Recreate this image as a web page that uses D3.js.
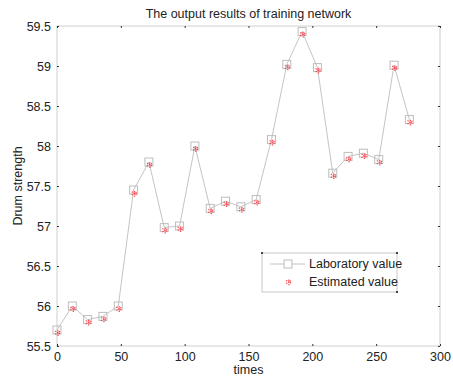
<!DOCTYPE html>
<html>
<head>
<meta charset="utf-8">
<script src="https://cdn.jsdelivr.net/npm/d3@7"></script>
<style>
  body { margin: 0; background: #fff; }
  text { font-family: "Liberation Sans", Arial, sans-serif; fill: #222; }
</style>
</head>
<body>
<svg width="453" height="378"></svg>
<script>
// training network output
var times = [0, 12, 24, 36, 48, 60, 72, 84, 96, 108, 120, 132, 144, 156, 168, 180, 192, 204, 216, 228, 240, 252, 264, 276];
var labValue = [55.70, 56.00, 55.83, 55.87, 56.00, 57.45, 57.80, 56.98, 57.00, 58.00, 57.22, 57.31, 57.24, 57.33, 58.08, 59.02, 59.43, 58.98, 57.66, 57.87, 57.91, 57.83, 59.01, 58.33];
var estValue = [55.68, 55.98, 55.81, 55.85, 55.98, 57.42, 57.78, 56.96, 56.98, 57.98, 57.20, 57.29, 57.22, 57.31, 58.06, 59.00, 59.41, 58.96, 57.64, 57.85, 57.89, 57.81, 58.99, 58.31];
var xTicks = [0, 50, 100, 150, 200, 250, 300];
var yTicks = [55.5, 56, 56.5, 57, 57.5, 58, 58.5, 59, 59.5];

var svg = d3.select("svg"),
    margin = {top: 26, right: 13, bottom: 32, left: 57},
    width = +svg.attr("width") - margin.left - margin.right,
    height = +svg.attr("height") - margin.top - margin.bottom;

var x = d3.scaleLinear().domain([0, 300]).range([0, width]);
var y = d3.scaleLinear().domain([55.5, 59.5]).range([height, 0]);

var g = svg.append("g")
    .attr("transform", "translate(" + margin.left + "," + margin.top + ")");

// box
g.append("rect")
    .attr("width", width).attr("height", height)
    .attr("fill", "none").attr("stroke", "#cfcfcf");

function styleAxis(sel) {
  sel.select(".domain").remove();
  sel.selectAll(".tick line").attr("stroke", "#333").attr("stroke-width", 1);
  sel.selectAll(".tick text").style("font-size", "12.5px").attr("fill", "#222");
}

g.append("g")
    .attr("transform", "translate(0," + height + ")")
    .call(d3.axisBottom(x).tickValues(xTicks).tickSizeInner(-2).tickPadding(6).tickFormat(d3.format("d")))
    .call(styleAxis);
g.append("g")
    .call(d3.axisTop(x).tickValues(xTicks).tickSizeInner(-2).tickFormat(""))
    .call(styleAxis);
g.append("g")
    .call(d3.axisLeft(y).tickValues(yTicks).tickSizeInner(-2).tickPadding(6).tickFormat(d3.format("")))
    .call(styleAxis);
g.append("g")
    .attr("transform", "translate(" + width + ",0)")
    .call(d3.axisRight(y).tickValues(yTicks).tickSizeInner(-2).tickFormat(""))
    .call(styleAxis);

// laboratory line + squares
var line = d3.line()
    .x(function(d, i) { return x(times[i]); })
    .y(function(d) { return y(d); });

g.append("path")
    .datum(labValue)
    .attr("d", line)
    .attr("fill", "none")
    .attr("stroke", "#c4c4c4")
    .attr("stroke-width", 1);

g.selectAll(".lab")
    .data(labValue)
  .enter().append("rect")
    .attr("class", "lab")
    .attr("x", function(d, i) { return x(times[i]) - 4; })
    .attr("y", function(d) { return y(d) - 4; })
    .attr("width", 8).attr("height", 8)
    .attr("fill", "none")
    .attr("stroke", "#bdbdbd");

var star = d3.symbol().type(d3.symbolAsterisk).size(30);

g.selectAll(".est")
    .data(estValue)
  .enter().append("path")
    .attr("class", "est")
    .attr("d", star)
    .attr("transform", function(d, i) { return "translate(" + (x(times[i]) + 1) + "," + (y(d) + 1) + ")"; })
    .attr("fill", "none")
    .attr("stroke", "#ff2a35")
    .attr("stroke-opacity", 0.85)
    .attr("stroke-width", 1.3)
    .attr("stroke-dasharray", "1.3,0.9");

// titles
svg.append("text")
    .attr("x", margin.left + width / 2).attr("y", 18)
    .attr("text-anchor", "middle").style("font-size", "12.5px")
    .text("The output results of training network");
svg.append("text")
    .attr("x", margin.left + width / 2).attr("y", 374)
    .attr("text-anchor", "middle").style("font-size", "12.5px")
    .text("times");
svg.append("text")
    .attr("transform", "translate(22," + (margin.top + height / 2) + ") rotate(-90)")
    .attr("text-anchor", "middle").style("font-size", "12.5px")
    .text("Drum strength");

// legend
var lg = svg.append("g").attr("transform", "translate(262,253)");
lg.append("rect")
    .attr("width", 135).attr("height", 39)
    .attr("fill", "#fff").attr("stroke", "#c8c8c8");
lg.selectAll(".corner")
    .data([[0, 0], [135, 0], [135, 39]])
  .enter().append("rect")
    .attr("class", "corner")
    .attr("x", function(d) { return d[0] - 1; })
    .attr("y", function(d) { return d[1] - 1; })
    .attr("width", 2).attr("height", 2)
    .attr("fill", "#444");
lg.append("line")
    .attr("x1", 8).attr("x2", 43).attr("y1", 11).attr("y2", 11)
    .attr("stroke", "#c4c4c4");
lg.append("rect")
    .attr("x", 22).attr("y", 7).attr("width", 8).attr("height", 8)
    .attr("fill", "#fff").attr("stroke", "#bdbdbd");
lg.append("path")
    .attr("d", star)
    .attr("transform", "translate(27,29)")
    .attr("fill", "none").attr("stroke", "#ff2a35").attr("stroke-opacity", 0.85)
    .attr("stroke-width", 1.3).attr("stroke-dasharray", "1.3,0.9");
lg.append("text").attr("x", 47).attr("y", 15).style("font-size", "12.5px").text("Laboratory value");
lg.append("text").attr("x", 47).attr("y", 33).style("font-size", "12.5px").text("Estimated value");
</script>
</body>
</html>
